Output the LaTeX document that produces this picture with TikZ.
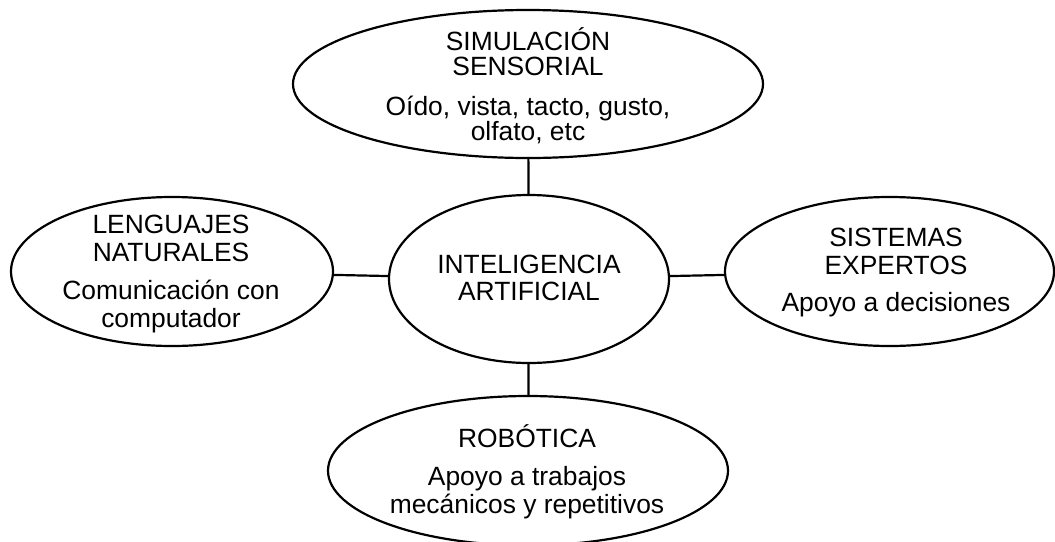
\documentclass[tikz,border=0pt]{standalone}
\usepackage{fontspec}
\setmainfont{Liberation Sans}
\usetikzlibrary{shapes}

\begin{document}
\begin{tikzpicture}[x=0.5pt, y=-0.5pt, line cap=round, line join=round,
  burbuja/.style={ellipse, draw, line width=1.1pt, inner sep=0pt},
  texto/.style={align=center, inner sep=0pt, font=\fontsize{13.2}{14}\selectfont},
  enlace/.style={line width=1.1pt}]

\useasboundingbox (0,0) rectangle (1055,541);
\clip (0,0) rectangle (1055,541);

% elipses
\node[burbuja, minimum width=235pt, minimum height=74pt] (sim) at (528,84) {};
\node[burbuja, minimum width=140pt, minimum height=84pt] (ia) at (529,279) {};
\node[burbuja, minimum width=161pt, minimum height=74.5pt] (len) at (172,271.5) {};
\node[burbuja, minimum width=164.5pt, minimum height=74.5pt] (sis) at (889.5,271.5) {};
\node[burbuja, minimum width=200pt, minimum height=74.7pt] (rob) at (528,470.7) {};

% textos
\node[texto, font=\fontsize{13.2}{12.5}\selectfont] (sim-t) at (528,86)
  {SIMULACIÓN\\SENSORIAL\\[7.5pt]Oído, vista, tacto, gusto,\\olfato, etc};
\node[texto, font=\fontsize{13.2}{13.5}\selectfont] (ia-t) at (529,278)
  {INTELIGENCIA\\ARTIFICIAL};
\node[texto] (len-t) at (171,274)
  {LENGUAJES\\NATURALES\\[5pt]Comunicación con\\computador};
\node[texto] (sis-t) at (896,273)
  {SISTEMAS\\EXPERTOS\\[4.5pt]Apoyo a decisiones};
\node[texto] (rob-t) at (527,472)
  {ROBÓTICA\\[5pt]Apoyo a trabajos\\mecánicos y repetitivos};

% conexiones
\draw[enlace] (sim) -- (ia);
\draw[enlace] (ia) -- (rob);
\draw[enlace] (len) -- (ia);
\draw[enlace] (ia) -- (sis);

\end{tikzpicture}
\end{document}
